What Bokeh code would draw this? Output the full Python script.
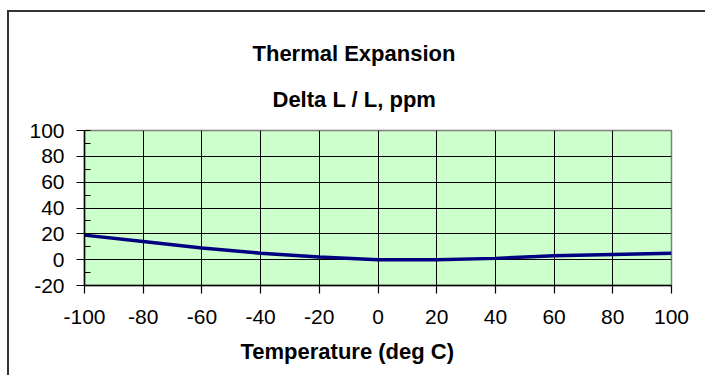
from bokeh.plotting import figure
from bokeh.models import Range1d, FixedTicker, SingleIntervalTicker, Title
from bokeh.embed import file_html
from bokeh.resources import INLINE

temps = [-100, -80, -60, -40, -20, 0, 20, 40, 60, 80, 100]
delta_ppm = [19, 14, 9, 5, 2, 0, 0, 1, 3, 4, 5]
x_ticks = [-100, -80, -60, -40, -20, 0, 20, 40, 60, 80, 100]
y_ticks = [-20, 0, 20, 40, 60, 80, 100]
title_lines = ["Thermal Expansion", "Delta L / L,  ppm"]
x_title = "Temperature (deg C)"

FONT = "Liberation Sans"
# frame placement on the canvas (pixels)
FL, FR, FT, FB = 84, 671, 130, 285

p = figure(width=705, height=375, output_backend="svg", toolbar_location=None,
           x_range=Range1d(-100, 100), y_range=Range1d(-20, 100),
           min_border_left=FL, min_border_right=705 - FR,
           min_border_top=FT, min_border_bottom=375 - FB)
p.background_fill_color = "#CCFFCC"
p.border_fill_alpha = 0
# outer chart border (cropped: only its top and left edges are visible)
p.styles = {
    "background-color": "white",
    "background-image": "linear-gradient(#333333, #333333), linear-gradient(#333333, #333333)",
    "background-size": "697px 2px, 2px 365px",
    "background-position": "8px 10px, 7px 10px",
    "background-repeat": "no-repeat, no-repeat",
}
p.outline_line_color = "#808080"
p.outline_line_width = 1.5

p.line(temps, delta_ppm, line_color="#000080", line_width=3.5)

# axes
p.xaxis.ticker = FixedTicker(ticks=x_ticks)
p.yaxis.ticker = SingleIntervalTicker(interval=20, num_minor_ticks=2)
p.xaxis.major_label_overrides = {t: str(t) for t in x_ticks}
p.yaxis.major_label_overrides = {t: str(t) for t in y_ticks}
for ax in (p.xaxis, p.yaxis):
    ax.axis_line_color = "black"
    ax.axis_line_width = 1.5
    ax.major_tick_line_color = "black"
    ax.major_tick_line_width = 1.2
    ax.major_tick_in = 0
    ax.major_tick_out = 8
    ax.major_label_text_font = FONT
    ax.major_label_text_font_size = "21px"
    ax.major_label_text_color = "black"
p.xaxis.minor_tick_line_color = None
p.xaxis.major_label_standoff = 16
p.yaxis.minor_tick_line_color = "black"
p.yaxis.minor_tick_in = 6
p.yaxis.minor_tick_out = 0
p.yaxis.major_label_standoff = 12

p.xgrid.grid_line_color = "black"
p.ygrid.grid_line_color = "black"
p.xgrid.grid_line_width = 1
p.ygrid.grid_line_width = 1


def ttl(text, offset, standoff):
    return Title(text=text, align="left", offset=offset, standoff=standoff,
                 text_font=FONT, text_font_size="22px", text_font_style="bold",
                 text_color="black")


# second title line sits closest to the frame, first line stacks above it
p.add_layout(ttl(title_lines[1], 188, 37), "above")
p.add_layout(ttl(title_lines[0], 168, 2), "above")
p.add_layout(ttl(x_title, 156, 21), "below")

open("out.html", "w").write(file_html(p, INLINE))
